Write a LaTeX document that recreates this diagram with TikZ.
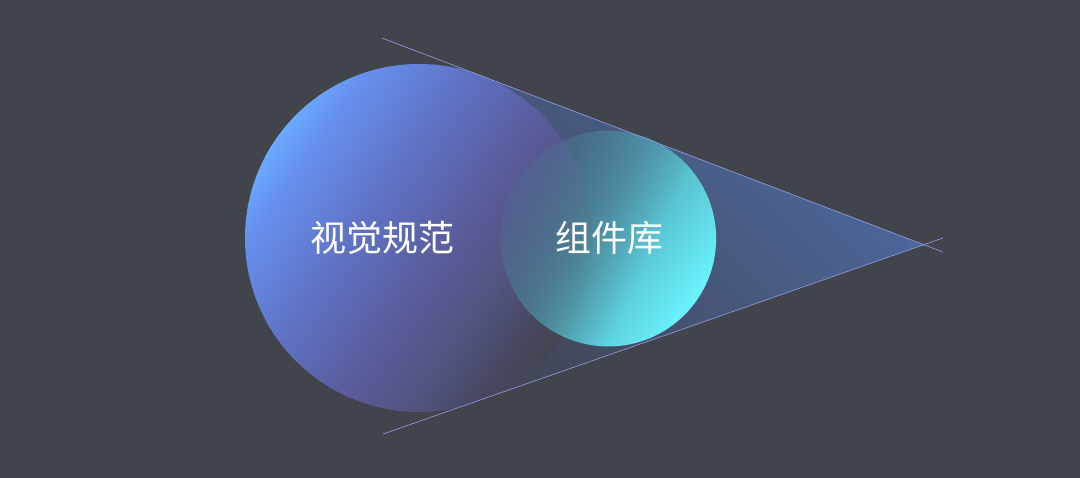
\documentclass[tikz,border=0pt]{standalone}
\usepackage{fontspec}
\setmainfont{Noto Sans CJK SC}
\usetikzlibrary{fadings}

\definecolor{bg}{HTML}{41444B}
\definecolor{edgeline}{HTML}{8C96DA}
\definecolor{specA}{HTML}{6AAAFF}
\definecolor{specB}{HTML}{6690EE}
\definecolor{specC}{HTML}{5F72C4}
\definecolor{specD}{HTML}{5A5C9C}
\definecolor{specE}{HTML}{525380}
\definecolor{specF}{HTML}{45475E}
\definecolor{specG}{HTML}{42454F}
\definecolor{libA}{HTML}{448898}
\definecolor{libB}{HTML}{50A4B4}
\definecolor{libC}{HTML}{5CCAD8}
\definecolor{libD}{HTML}{6AF4FE}
\definecolor{coneL}{HTML}{43475A}
\definecolor{coneR}{HTML}{4C6AA2}

\pgfdeclarehorizontalshading{specball}{100bp}{color(0bp)=(specA); color(25bp)=(specA);
  color(30bp)=(specB); color(42bp)=(specC); color(54bp)=(specD); color(63bp)=(specE);
  color(71bp)=(specF); color(75bp)=(specG); color(100bp)=(specG)}
\pgfdeclarehorizontalshading{libball}{100bp}{color(0bp)=(libA); color(25bp)=(libA);
  color(45bp)=(libB); color(60bp)=(libC); color(75bp)=(libD); color(100bp)=(libD)}
\pgfdeclarehorizontalshading{libramp}{100bp}{color(0bp)=(pgftransparent!90);
  color(25bp)=(pgftransparent!88); color(42bp)=(pgftransparent!45);
  color(60bp)=(pgftransparent!0); color(100bp)=(pgftransparent!0)}
\pgfdeclarefading{libfade}{\pgfuseshading{libramp}}

\begin{document}
\begin{tikzpicture}[x=1pt,y=-1pt,
	edge/.style={draw=edgeline,line width=0.7pt},
	label text/.style={text=white,font=\fontsize{36}{40}\selectfont,inner sep=0pt}]
	\fill[bg] (0,0) rectangle (1080,478);
	\useasboundingbox (0,0) rectangle (1080,478);

	\coordinate (apex)   at (924,244.7);
	\coordinate (tantop) at (481,75.4);
	\coordinate (tanbot) at (476,401);
	\coordinate (topin)  at (382,38);
	\coordinate (topout) at (943,252);
	\coordinate (botin)  at (383,434);
	\coordinate (botout) at (943,238);

	\shade[left color=coneL,right color=coneR,shading angle=135]
		(apex) -- (tantop) -- (tanbot) -- cycle;

	\shade[shading=specball,shading angle=-35] (419,238) circle (174);
	\shade[shading=libball,shading angle=-35,path fading=libfade,fading angle=-25]
		(608.5,238.5) circle (108);

	\draw[edge] (topin) -- (topout);
	\draw[edge] (botin) -- (botout);

	\node[label text] (spec) at (382.5,238) {视觉规范};
	\node[label text] (lib)  at (609,238)   {组件库};
\end{tikzpicture}
\end{document}
